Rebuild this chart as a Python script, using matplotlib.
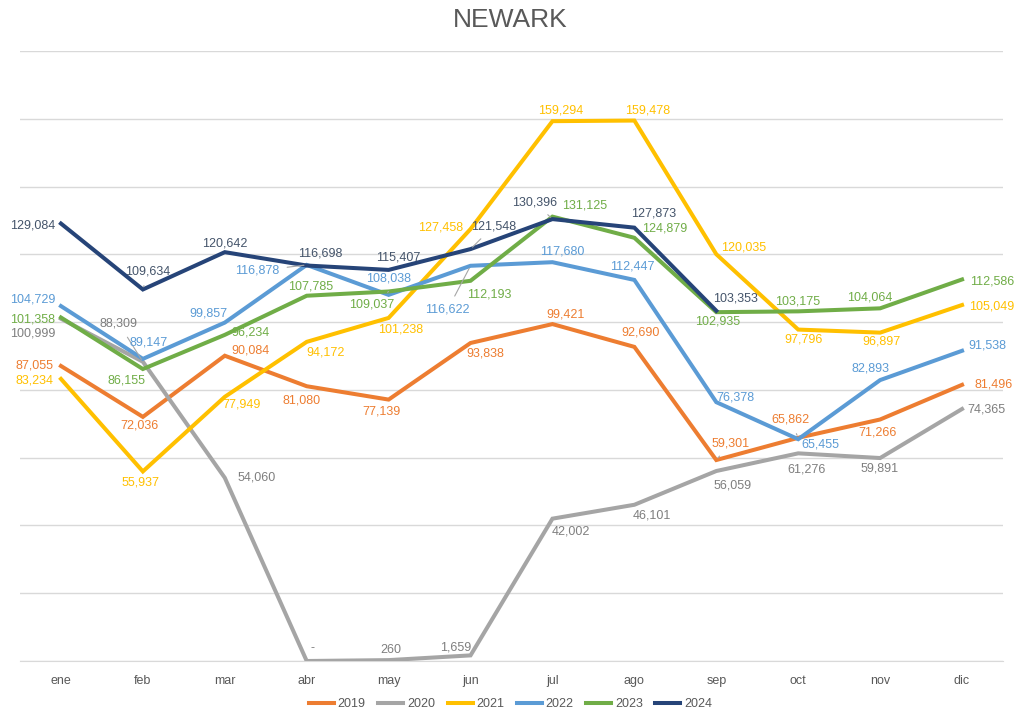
import matplotlib.pyplot as plt

plt.rcParams['font.family'] = ['Liberation Sans', 'DejaVu Sans']

months = ['ene', 'feb', 'mar', 'abr', 'may', 'jun', 'jul', 'ago', 'sep', 'oct', 'nov', 'dic']
years = ['2019', '2020', '2021', '2022', '2023', '2024']

v2019 = [87055, 72036, 90084, 81080, 77139, 93838, 99421, 92690, 59301, 65862, 71266, 81496]
v2020 = [100999, 88309, 54060, 0, 260, 1659, 42002, 46101, 56059, 61276, 59891, 74365]
v2021 = [83234, 55937, 77949, 94172, 101238, 127458, 159294, 159478, 120035, 97796, 96897, 105049]
v2022 = [104729, 89147, 99857, 116878, 108038, 116622, 117680, 112447, 76378, 65455, 82893, 91538]
v2023 = [101358, 86155, 96234, 107785, 109037, 112193, 131125, 124879, 102935, 103175, 104064, 112586]
v2024 = [129084, 109634, 120642, 116698, 115407, 121548, 130396, 127873, 103353]

series = [v2019, v2020, v2021, v2022, v2023, v2024]
colors = ['#ED7D31', '#A5A5A5', '#FFC000', '#5B9BD5', '#70AD47', '#264478']
label_colors = ['#ED7D31', '#7F7F7F', '#FFC000', '#5B9BD5', '#70AD47', '#44546A']

# décalage des étiquettes (pixels, y vers le bas)
offsets = [
    [(-26, 0), (-3, 9), (26, -5), (-5, 14), (-7, 12), (15, 11), (13, -10), (6, -14), (14, -17), (-8, -18), (-3, 13), (32, 0)],
    [(-28, 15), (-24, -38), (32, 0), (6, -13), (2, -10), (-15, -8), (18, 13), (17, 11), (16, 14), (8, 16), (-1, 10), (24, 1)],
    [(-26, 2), (-2, 11), (17, 8), (19, 11), (12, 12), (-30, -2), (8, -11), (13, -10), (27, -7), (5, 10), (1, 9), (30, 1)],
    [(-28, -7), (6, -16), (-16, -9), (-50, 6), (0, -16), (-23, 44), (10, -11), (-2, -13), (19, -5), (22, 5), (-10, -12), (25, -5)],
    [(-28, 2), (-16, 11), (26, -2), (4, -9), (-17, 13), (19, 14), (32, -11), (30, -9), (1, 9), (-1, -10), (-10, -11), (30, 2)],
    [(-28, 2), (5, -18), (0, -9), (14, -12), (10, -12), (23, -23), (-18, -17), (19, -14), (19, -12)],
]
leaders = {(1, 1), (3, 3), (3, 5), (5, 1), (5, 5), (5, 6), (0, 8), (0, 9), (4, 4)}

fig = plt.figure(figsize=(10.21, 7.15), dpi=100)
ax = fig.add_axes([20 / 1021, 54 / 715, 983 / 1021, 610 / 715])

x = list(range(len(months)))
for s, (vals, year) in enumerate(zip(series, years)):
    xs = x[:len(vals)]
    ax.plot(xs, vals, color=colors[s], linewidth=2.9, label=year, solid_joinstyle='miter', zorder=3)
    for i, v in enumerate(vals):
        dx, dy = offsets[s][i]
        txt = '-' if v == 0 else f'{v:,}'
        props = None
        if (s, i) in leaders:
            props = dict(arrowstyle='-', color='#A6A6A6', lw=0.8, shrinkA=4, shrinkB=2)
        ax.annotate(txt, (i, v), xytext=(dx, -dy), textcoords='offset pixels',
                    ha='center', va='center', fontsize=9, color=label_colors[s],
                    arrowprops=props, zorder=4)

ax.set_xlim(-0.5, 11.5)
ax.set_ylim(0, 180000)
ax.set_yticks(range(0, 180001, 20000))
ax.yaxis.grid(True, color='#D9D9D9', linewidth=1)
ax.set_axisbelow(True)
ax.tick_params(axis='y', left=False, labelleft=False)
ax.set_xticks(x)
ax.set_xticklabels(months)
ax.tick_params(axis='x', length=0, pad=10, labelsize=9, labelcolor='#595959')
for side in ['top', 'right', 'left']:
    ax.spines[side].set_visible(False)
ax.spines['bottom'].set_color('#D9D9D9')

fig.text(0.5, 0.972, 'NEWARK', ha='center', va='center', fontsize=19, color='#595959')
fig.legend(loc='center', bbox_to_anchor=(0.5, 0.015), ncol=6, frameon=False, fontsize=9,
           handlelength=2.0, columnspacing=1.0, handletextpad=0.3, labelcolor='#595959')

fig.savefig('out.png', dpi=100)
